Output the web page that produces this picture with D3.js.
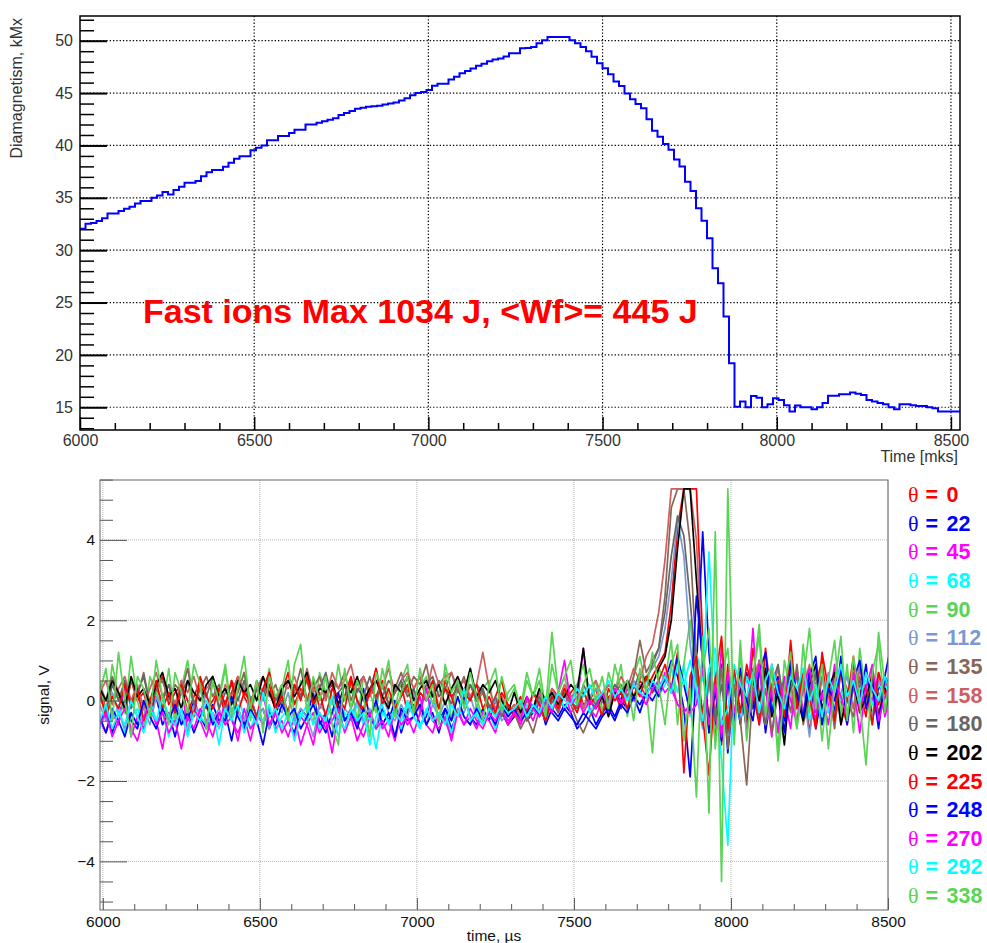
<!DOCTYPE html>
<html>
<head>
<meta charset="utf-8">
<script src="https://cdn.jsdelivr.net/npm/d3@7"></script>
<style>
  html, body { margin: 0; padding: 0; background: #fff; }
  svg { display: block; }
</style>
</head>
<body>
<svg id="chart" width="987" height="943"></svg>
<script>
// ---- top panel: diamagnetism histogram (bins from 6000 to 8526 mks) ----
const diamStart = 6000, diamEnd = 8526;
const diam = [
  32.05, 32.52, 32.6, 32.78, 33.05, 33.51, 33.51, 33.73, 33.95, 34.15,
  34.46, 34.69, 34.69, 35.0, 35.23, 35.55, 35.32, 35.74, 36.05, 36.44,
  36.44, 36.6, 37.07, 37.45, 37.65, 37.65, 37.96, 38.35, 38.73, 38.98,
  38.98, 39.55, 39.78, 40.0, 40.5, 40.5, 40.9, 40.9, 41.2, 41.5,
  41.5, 42.0, 42.0, 42.16, 42.3, 42.45, 42.6, 42.9, 43.1, 43.3,
  43.5, 43.6, 43.7, 43.75, 43.8, 43.9, 44.0, 44.1, 44.3, 44.5,
  44.8, 45.0, 45.1, 45.3, 45.7, 45.9, 45.9, 46.3, 46.55, 46.9,
  47.1, 47.35, 47.6, 47.8, 48.05, 48.2, 48.3, 48.5, 48.8, 48.8,
  49.27, 49.3, 49.4, 49.75, 50.05, 50.35, 50.35, 50.35, 50.35, 50.05,
  49.75, 49.4, 49.0, 48.47, 47.84, 47.36, 46.8, 46.1, 45.67, 44.97,
  44.4, 43.95, 43.54, 42.5, 41.4, 40.84, 40.14, 39.6, 38.67, 38.0,
  36.54, 35.65, 34.0, 32.8, 31.13, 28.27, 26.84, 23.66, 19.2, 15.06,
  15.54, 15.0, 16.08, 15.92, 15.0, 15.3, 15.86, 15.7, 15.2, 14.6,
  15.16, 15.0, 15.0, 14.8, 15.0, 15.4, 16.1, 16.1, 16.24, 16.24,
  16.4, 16.3, 16.18, 15.7, 15.54, 15.4, 15.3, 15.0, 14.8, 15.3,
  15.3, 15.2, 15.13, 15.13, 15.0, 14.9, 14.6, 14.6, 14.6, 14.6
];
const topXMajor = [6000, 6500, 7000, 7500, 8000, 8500];
const topYMajor = [15, 20, 25, 30, 35, 40, 45, 50];
const topNote = 'Fast ions Max 1034 J, <Wf>= 445 J';

// ---- bottom panel: probe signals, sampled every 20 us from 5990 us ----
const tStart = 5990, tStep = 20;
const thetas = [0, 22, 45, 68, 90, 112, 135, 158, 180, 202, 225, 248, 270, 292, 338];
const colors = ['#ff0000', '#0000ff', '#ff00ff', '#00ffff', '#59d454', '#7d99d1', '#876657',
  '#cf5e61', '#666666', '#000000', '#ff0000', '#0000ff', '#ff00ff', '#00ffff', '#59d454'];

const sig0 = [
  0.3,-0.2,0.4,0.1,-0.3,0.5,0.0,0.2,-0.4,0.3, 0.6,-0.1,0.2,0.4,-0.3,0.1,0.5,-0.2,0.0,0.3,
  -0.4,0.2,0.6,0.1,-0.2,0.3,0.0,0.4,-0.3,0.2, 0.7,-0.1,0.3,0.0,0.5,-0.2,0.2,0.4,-0.3,0.1,
  0.6,0.0,-0.2,0.3,0.1,0.5,-0.1,0.2,0.4,-0.3, 0.3,0.6,0.0,0.2,-0.2,0.5,0.1,0.3,-0.1,0.4,
  0.0,0.2,-0.3,0.1,0.5,-0.2,
  -0.2,0.1,-0.4,0.2,0.0,-0.3,0.3,0.1,-0.2,0.2,0.4,-0.1,0.0,0.3,-0.3,0.1,0.2,-0.2,0.4,0.1,0.5,0.3,0.6,0.9,
  1.2,2.4,4.3,5.27,5.27,5.27,1.5,-0.8,0.6,-1.1,0.9,-0.4,
  0.8,-0.5,1.3,0.2,-0.7,0.9,0.1,-0.4,1.1,-0.2,0.6,-0.8,0.4,1.0,-0.3,0.7,0.0,-0.6,0.9,0.3,-0.4,0.8,-0.1,0.5,0.2
];
const sig22 = [
  -0.6,-0.2,-0.8,-0.3,0.0,-0.5,-0.7,-0.1,-0.4,0.1, -0.6,-0.3,-0.9,-0.2,-0.5,0.0,-0.4,-0.7,-0.1,-0.5,
  -0.3,-1.0,-0.2,-0.6,0.1,-0.4,-0.2,-0.7,-0.3,0.0, -0.5,-0.8,-0.2,-0.4,0.2,-0.6,-0.3,-0.9,-0.1,-0.5,
  -0.2,-0.6,0.3,-0.4,-0.7,-0.2,-0.5,0.0,-0.8,-0.3, -0.1,-0.6,-0.4,0.2,-0.5,-0.2,-0.7,-0.3,0.1,-0.4,
  -0.6,-0.2,-0.5,0.0,-0.3,-0.6,
  -0.4,-0.1,-0.5,-0.3,0.0,-0.6,-0.2,-0.4,-0.1,-0.3,-0.7,-0.5,-0.2,-0.6,-0.3,-0.1,-0.4,0.0,-0.2,0.1,-0.3,0.2,0.0,0.3,
  0.5,1.0,0.6,-0.2,-1.9,0.8,4.2,1.2,-0.6,0.9,-1.3,0.4,
  -0.6,0.7,-0.2,1.0,-0.8,0.3,0.6,-0.5,1.2,0.0,-0.4,0.8,-0.7,0.2,0.5,-0.3,1.1,-0.6,0.4,0.0,0.9,-0.5,0.3,0.6,1.4
];
const sig45 = [
  -0.5,-0.8,-0.3,-0.6,0.4,-0.9,-0.4,-0.7,-0.1,-0.5, -1.2,-0.3,-0.6,0.5,-0.8,-0.2,-0.5,-0.9,-0.3,-0.6,
  0.0,-0.5,-0.8,-0.4,-1.0,-0.3,-0.6,-0.2,-0.7,-0.5, -0.9,-0.4,-1.1,-0.6,-0.3,-0.8,-0.5,-1.3,-0.4,-0.7,
  -0.2,-0.6,-0.9,-0.4,-0.1,-0.7,-0.5,-1.0,-0.3,-0.6, -0.4,0.1,-0.6,-0.8,-0.3,-0.5,-0.9,-0.2,-0.6,-0.4,
  -0.7,-0.3,-0.5,-0.8,-0.2,-0.5,
  -0.3,-0.6,-0.2,-0.5,0.0,-0.4,0.1,-0.3,0.2,-0.3,-0.1,1.3,-0.2,-0.4,0.0,-0.3,0.2,-0.1,0.3,0.0,0.4,0.1,0.5,0.2,
  0.7,0.3,-0.1,-0.3,-0.1,0.9,-0.5,0.6,-1.0,1.4,-0.7,0.2,
  0.4,-0.3,1.8,-0.6,0.3,-0.9,0.5,0.1,-0.7,0.8,-0.3,0.2,-0.5,0.6,-0.2,0.9,-0.6,0.1,0.4,-0.8,0.3,0.0,0.7,-0.4,0.2
];
const sig68 = [
  -0.7,-0.3,-0.5,-0.1,-0.8,-0.4,-0.2,-0.6,0.0,-0.5, -0.3,-0.9,-0.2,-0.5,-0.7,-0.1,-0.4,-0.6,-0.3,-1.1,
  -0.2,-0.5,0.1,-0.4,-0.7,-0.3,-0.5,-0.1,-0.8,-0.4, -0.2,-0.6,-0.3,-0.5,0.0,-0.7,-0.4,-0.2,-0.9,-0.3,
  -0.5,-0.1,-0.6,-0.4,-1.2,-0.3,-0.5,-0.2,-0.7,-0.1, -0.4,-0.6,-0.3,0.2,-0.5,-0.3,-0.8,-0.2,-0.4,-0.6,
  -0.1,-0.5,-0.3,-0.7,-0.2,-0.4,
  -0.2,-0.5,-0.1,-0.3,0.1,-0.4,0.0,0.2,-0.2,0.1,-0.1,0.3,-0.3,0.0,0.2,-0.1,0.3,0.0,0.4,0.1,0.2,0.5,0.3,0.1,
  0.4,0.8,0.2,0.9,-0.4,1.2,0.5,3.7,0.3,-1.5,-3.6,0.6,
  -0.5,0.6,0.2,-0.4,0.9,0.0,-0.7,0.5,0.3,-0.2,0.8,-0.5,0.1,0.6,-0.3,0.4,0.0,0.7,-0.2,0.3,0.5,-0.1,0.4,0.2,0.6
];
const sig90 = [
  0.5,-0.4,0.9,0.1,-0.3,1.1,0.0,-0.6,0.6,0.2, -0.2,0.8,-0.5,0.3,1.0,-0.1,0.4,-0.7,0.6,0.1,
  0.9,-0.3,0.2,0.7,-0.5,0.4,0.0,0.8,-0.2,0.3, 1.0,-0.4,0.5,0.1,-0.6,0.7,0.2,-0.1,0.9,0.0,
  0.4,-0.5,0.6,0.2,-0.3,0.8,0.1,-0.2,0.5,0.9, -0.4,0.3,0.6,-0.1,0.2,0.7,-0.5,0.4,0.1,0.8,
  -0.2,0.3,0.5,-0.4,0.6,0.0,
  0.3,-0.3,0.5,0.1,0.8,-0.2,1.7,0.2,0.6,-0.1,0.4,0.9,0.0,0.5,-0.3,0.7,0.2,0.9,-0.4,0.6,1.1,0.3,-1.3,0.8,
  0.5,1.5,-0.6,0.9,2.0,0.4,0.7,1.8,-1.2,0.6,1.3,-0.8,
  1.2,-0.9,0.6,1.6,-0.5,0.3,-1.2,1.0,0.2,-0.7,1.4,-0.3,0.8,-1.0,0.5,1.5,-0.4,0.9,-0.8,1.3,0.1,-0.6,1.7,0.4,-0.9
];
const sig112 = [
  -0.1,-0.5,0.2,-0.3,-0.7,0.0,-0.4,-0.2,-0.6,0.1, -0.3,-0.5,0.0,-0.4,-0.8,-0.1,-0.3,0.2,-0.5,-0.2,
  -0.6,0.0,-0.3,-0.5,0.1,-0.4,-0.2,-0.7,-0.1,-0.3, 0.2,-0.5,-0.2,-0.4,-0.9,-0.1,-0.3,0.1,-0.6,-0.2,
  -0.4,0.0,-0.5,-0.2,-0.7,0.1,-0.3,-0.5,-0.1,-0.4, 0.2,-0.3,-0.6,-0.1,-0.4,0.0,-0.5,-0.2,-0.3,0.1,
  -0.4,-0.6,-0.2,0.0,-0.5,-0.3,
  -0.1,-0.4,0.0,-0.2,0.2,-0.3,0.1,-0.1,0.3,0.0,0.4,-0.2,0.1,0.3,0.0,-0.2,0.2,0.4,0.1,0.5,0.3,0.6,0.8,1.1,
  1.8,3.0,4.5,3.6,1.4,0.2,-0.7,0.4,-0.3,0.7,-0.5,0.3,
  0.6,-0.4,0.2,0.9,-0.6,0.1,0.5,-0.3,0.8,-0.1,0.3,-0.9,0.4,0.0,0.7,-0.5,0.2,0.6,-0.2,0.9,0.1,-0.4,0.5,0.3,0.0
];
const sig135 = [
  0.4,0.0,0.6,0.2,-0.2,0.5,0.1,0.7,-0.1,0.3, 0.5,0.0,0.4,0.2,0.8,-0.1,0.3,0.6,0.1,0.4,
  -0.2,0.5,0.2,0.7,0.0,0.3,0.6,0.1,0.4,-0.1, 0.5,0.2,0.8,0.0,0.3,0.6,0.1,0.5,0.3,0.7,
  0.0,0.4,0.6,0.2,0.8,0.1,0.5,0.3,0.7,0.2, 0.6,0.4,0.9,0.1,0.5,0.3,0.7,0.2,0.6,0.0,
  0.4,0.2,-0.1,-0.4,-0.2,-0.6,
  -0.3,-0.7,-0.4,-0.8,-0.2,-0.5,0.0,-0.3,0.2,-0.1,-0.5,-0.8,-0.4,-0.1,0.1,-0.2,0.2,0.4,0.1,0.6,1.5,0.7,1.0,1.3,
  2.6,4.8,5.27,5.27,3.9,1.0,-0.6,0.5,-0.3,0.8,-1.2,0.4,
  -0.5,-2.1,0.3,-0.4,0.7,-0.8,0.2,0.5,-0.3,0.9,-0.6,0.1,0.6,-0.2,0.4,-0.7,0.8,0.0,-0.4,0.6,-0.1,0.3,-0.6,0.5,0.2
];
const sig158 = [
  0.2,0.5,-0.1,0.3,0.6,0.0,0.4,-0.2,0.3,0.7, 0.1,0.4,-0.1,0.5,0.2,0.6,0.0,0.3,0.5,-0.2,
  0.4,0.1,0.6,0.3,-0.1,0.5,0.2,0.7,0.0,0.4, 0.3,0.6,0.1,0.8,0.2,0.4,0.0,0.7,0.3,0.5,
  0.9,0.2,0.6,0.1,0.5,0.3,0.8,0.2,0.5,0.7, 0.3,0.6,0.2,0.9,0.4,0.6,0.7,0.3,0.5,0.1,
  0.4,1.2,0.3,-0.2,0.1,-0.3,
  -0.1,-0.4,0.0,-0.2,0.2,-0.1,0.3,0.0,0.4,0.1,0.2,-0.2,0.3,0.5,0.1,0.4,0.2,0.6,0.3,0.8,0.5,1.1,1.4,2.2,
  3.5,5.27,5.27,5.27,5.27,4.0,0.8,-0.4,0.6,-0.8,0.3,-0.5,
  0.7,-0.3,0.4,1.0,-0.5,0.2,0.8,-0.1,0.5,-0.6,0.3,0.9,-0.2,0.6,0.1,-0.4,0.7,0.3,-0.2,0.8,0.0,0.5,-0.3,0.4,0.6
];
const sig180 = [
  0.1,-0.3,0.4,0.0,0.5,-0.2,0.2,0.6,-0.1,0.3, 0.0,0.4,-0.3,0.2,0.5,-0.1,0.3,0.1,0.6,-0.2,
  0.2,0.4,0.0,0.5,-0.2,0.3,0.1,0.6,0.0,0.2, -0.3,0.4,0.1,0.5,-0.1,0.3,0.7,0.0,0.2,0.4,
  -0.2,0.3,0.1,0.6,0.0,0.4,-0.1,0.2,0.5,0.1, 0.3,-0.2,0.4,0.6,0.1,0.3,-0.1,0.5,0.2,0.4,
  0.0,0.3,-0.2,0.1,-0.4,-0.1,
  -0.3,0.0,-0.5,-0.2,0.1,-0.3,0.2,-0.1,0.3,0.0,-0.2,0.4,0.1,-0.1,0.2,0.0,0.4,0.2,0.5,0.3,0.7,0.5,0.9,1.3,
  2.2,3.6,4.6,4.1,2.5,0.6,-0.3,0.7,-0.5,0.4,-0.8,0.2,
  0.5,-0.4,0.8,0.1,-0.6,0.4,0.9,-0.2,0.3,0.6,-0.5,0.2,0.7,-0.3,0.4,0.0,0.8,-0.4,0.3,0.5,-0.1,0.6,0.2,-0.3,0.4
];
const sig202 = [
  0.3,0.0,0.5,0.2,-0.2,0.6,0.1,0.3,-0.1,0.4, 0.7,0.1,0.3,-0.2,0.5,0.2,0.0,0.4,0.6,0.1,
  0.3,-0.1,0.5,0.2,0.4,0.0,0.6,0.2,-0.2,0.3, 0.5,0.1,0.4,0.7,0.0,0.3,0.2,0.5,-0.1,0.4,
  0.2,0.6,0.0,0.3,0.5,0.1,-0.2,0.4,0.2,0.6, 0.0,0.3,0.5,0.1,0.4,-0.1,0.3,0.6,0.2,0.8,
  0.1,0.4,0.2,0.5,0.0,-0.3,
  0.2,-0.3,0.1,-0.2,0.3,0.0,0.2,-0.1,0.1,0.4,0.2,1.3,0.0,-0.2,0.1,-0.4,0.2,0.0,0.5,0.1,0.3,0.6,0.4,0.8,
  1.1,2.0,3.8,5.27,5.27,3.0,0.9,-0.5,0.3,-0.9,0.6,-0.4,
  0.3,-0.7,0.5,0.0,0.8,-0.4,0.2,-1.1,0.6,0.1,-0.5,0.4,0.9,-0.2,0.3,0.7,-0.6,0.2,0.5,-0.3,0.1,0.6,-0.4,0.3,-0.2
];
const sig225 = [
  0.2,-0.4,0.1,-0.2,0.4,-0.1,0.3,-0.5,0.0,0.5, -0.2,0.2,-0.3,0.4,0.0,-0.4,0.6,0.1,-0.2,0.3,
  -0.1,0.5,-0.3,0.2,0.0,-0.4,0.3,0.7,-0.2,0.1, -0.3,0.4,0.0,0.6,-0.1,0.2,-0.4,0.3,0.1,-0.2,
  0.5,0.0,-0.3,0.2,0.8,-0.1,0.3,-0.2,0.1,0.4, -0.3,0.2,0.0,0.5,-0.2,0.3,0.1,-0.4,0.2,0.0,
  0.4,-0.2,0.1,-0.3,0.2,-0.1,
  -0.4,0.0,-0.3,0.2,-0.1,-0.5,0.1,-0.2,0.3,0.0,-0.3,0.2,-0.1,0.1,-0.4,0.3,0.0,0.2,-0.2,0.4,0.1,0.6,0.2,0.5,
  0.9,0.3,1.2,-1.8,0.6,1.1,-0.4,-1.85,0.5,1.6,-0.7,0.8,
  -0.3,0.9,0.2,-0.6,1.3,0.0,0.5,-0.4,1.5,-0.2,0.7,0.1,-0.7,1.2,0.3,-0.5,0.8,0.0,1.1,-0.3,0.4,-0.6,0.7,0.2,-0.4
];
const sig248 = [
  -0.4,-0.8,-0.2,-0.5,-0.9,-0.3,-0.6,0.0,-0.4,-0.7, -0.2,-0.5,-0.1,-0.6,-0.3,-0.8,-0.4,-0.1,-0.6,-0.3,
  -0.5,0.1,-0.4,-0.7,-0.2,-0.5,-1.1,-0.3,-0.6,-0.1, -0.4,-0.2,-0.7,-0.4,-0.1,-0.5,-0.8,-0.3,0.2,-0.5,
  -0.3,-0.7,-0.2,-0.4,0.0,-0.6,-0.3,-0.9,-0.2,-0.5, -0.4,-0.1,-0.6,-0.3,-0.8,-0.2,-0.5,0.1,-0.4,-0.6,
  -0.2,-0.5,-0.3,-0.6,-0.1,-0.4,
  -0.2,-0.5,-0.3,-0.1,-0.4,0.0,-0.3,-0.5,-0.2,-0.4,-0.6,-0.3,-0.5,-0.7,-0.4,-0.2,-0.5,-0.1,-0.3,0.1,-0.1,0.2,0.4,0.1,
  0.6,0.2,1.1,0.4,-0.3,2.6,1.0,-0.8,0.3,-1.0,0.5,-0.5,
  0.8,0.0,-0.5,0.7,1.2,-0.3,0.4,-0.8,0.9,0.2,-0.4,0.6,1.1,-0.6,0.3,0.0,0.8,-0.5,0.5,1.0,-0.2,0.4,-0.7,0.6,0.3
];
const sig270 = [
  -0.6,-0.3,-0.9,-0.5,-0.2,-0.7,-1.0,-0.4,-0.1,-0.6, -0.3,-0.8,-0.5,-1.2,-0.4,-0.7,-0.2,-0.5,-0.9,-0.3,
  -0.6,-0.4,-1.0,-0.2,-0.7,-0.5,0.2,-0.6,-0.3,-0.8, -0.5,-0.9,-0.4,-0.6,-1.1,-0.3,-0.7,-0.5,-0.2,-0.8,
  -0.4,-1.0,-0.6,-0.3,-0.7,-0.5,-0.9,-0.2,-0.6,-0.4, -0.8,-0.3,0.3,-0.5,-0.7,-0.4,-1.0,-0.3,-0.6,-0.2,
  -0.5,-0.7,-0.3,-0.5,-0.2,-0.6,
  -0.3,-0.5,0.1,-0.2,-0.4,0.0,-0.3,0.2,1.0,-0.1,0.1,-0.3,0.0,-0.2,0.2,-0.1,0.3,0.0,0.1,0.4,0.2,-0.1,0.3,0.5,
  0.2,0.4,-0.1,-0.2,-0.3,-0.1,0.8,-0.6,0.4,-0.9,0.7,-0.3,
  0.5,-0.7,0.2,0.9,-0.4,0.3,-0.8,0.6,0.0,-0.5,0.4,0.8,-0.3,0.2,-0.6,0.5,0.1,-0.4,0.7,-0.2,0.3,0.9,-0.5,0.1,0.4
];
const sig292 = [
  -0.5,-0.1,-0.7,-0.3,-0.6,0.0,-0.4,-0.8,-0.2,-0.5, 0.1,-0.4,-0.6,-0.2,-0.9,-0.3,-0.5,0.0,-0.4,-0.7,
  -0.2,-0.5,-0.1,-0.8,-0.3,-0.6,0.2,-0.4,-0.2,-0.7, -0.3,-1.0,-0.4,-0.1,-0.6,-0.3,-0.5,0.1,-0.4,-0.7,
  -0.2,-0.5,-0.3,-1.1,-0.4,-0.1,-0.6,-0.3,-0.5,0.0, -0.4,-0.7,-0.2,-0.5,-0.3,-0.6,-0.1,-0.4,0.3,-0.5,
  -0.3,-0.6,-0.2,-0.4,-0.1,-0.3,
  -0.2,0.0,-0.4,-0.1,-0.3,0.1,-0.2,0.2,0.0,-0.1,0.3,0.1,0.4,0.0,0.2,0.5,0.1,0.3,0.0,0.4,0.2,0.1,0.5,0.3,
  0.6,0.2,0.9,0.4,1.0,0.3,-0.5,0.8,1.3,-0.6,-0.2,0.9,
  0.4,0.1,0.7,-0.3,0.5,0.9,0.2,-0.2,0.6,0.3,0.8,0.0,0.4,-0.4,0.6,0.2,0.9,0.1,0.5,-0.1,0.7,0.3,0.0,0.6,0.2
];
const sig338 = [
  0.2,0.8,-0.5,1.2,0.0,-0.9,0.6,0.3,-0.4,1.0, 0.1,-0.6,0.7,0.2,-0.3,0.9,0.4,-0.7,0.5,0.0,
  0.8,-0.4,0.3,1.1,-0.2,0.5,-0.8,0.6,0.1,0.4, -0.5,0.9,1.4,-0.3,0.6,0.0,0.6,-0.6,-1.1,0.8,
  -0.2,0.5,0.1,-0.9,0.7,0.3,1.0,-0.4,0.2,0.6, -0.3,0.8,0.0,0.4,-0.6,0.9,0.2,0.5,-0.2,0.7,
  0.1,-0.5,0.4,0.8,-0.3,0.2,
  0.4,-0.2,0.7,0.1,0.5,-0.4,0.9,0.2,0.6,1.0,-0.1,0.4,0.8,0.0,0.6,-0.2,0.9,0.3,0.5,-0.5,0.8,0.2,1.2,0.4,
  -0.6,0.9,1.4,-1.0,0.3,-2.4,1.6,-2.8,4.2,-4.5,5.27,-1.1,
  1.5,-1.0,0.6,1.9,-0.4,0.8,-1.5,0.3,1.2,-0.7,0.5,1.8,-0.2,0.9,-1.2,0.4,1.6,-0.5,1.1,0.0,-1.6,0.7,1.4,-0.3,0.9
];
const signals = [sig0, sig22, sig45, sig68, sig90, sig112, sig135, sig158, sig180, sig202,
  sig225, sig248, sig270, sig292, sig338];
const botXMajor = [6000, 6500, 7000, 7500, 8000, 8500];
const botYMajor = [-4, -2, 0, 2, 4];

const FONT = '"Liberation Sans", Arial, Helvetica, sans-serif';
const svg = d3.select('#chart').attr('font-family', FONT);

// =================== top panel ===================
const T = { l: 80, t: 16, r: 960, b: 430 };
const xTop = d3.scaleLinear().domain([diamStart, diamEnd]).range([T.l, T.r]);
const yTop = d3.scaleLinear().domain([12.83, 52.36]).range([T.b, T.t]);

const gridTop = svg.append('g')
  .attr('stroke', '#000').attr('stroke-width', 1.2).attr('stroke-dasharray', '1.3,2');
gridTop.selectAll('line.v').data(topXMajor.filter(d => d > diamStart)).join('line')
  .attr('x1', d => xTop(d)).attr('x2', d => xTop(d)).attr('y1', T.t).attr('y2', T.b);
gridTop.selectAll('line.h').data(topYMajor).join('line')
  .attr('x1', T.l).attr('x2', T.r).attr('y1', d => yTop(d)).attr('y2', d => yTop(d));

function styleAxis(g, size, color, tickColor, tickWidth) {
  g.attr('font-family', FONT).attr('font-size', size);
  g.select('.domain').remove();
  g.selectAll('.tick line').attr('stroke', tickColor).attr('stroke-width', tickWidth);
  g.selectAll('.tick text').attr('fill', color);
}

const fmt = d3.format('d');
const xTopMinor = d3.range(6000, 8501, 100).filter(d => d % 500);
styleAxis(svg.append('g').attr('transform', `translate(0,${T.b})`)
  .call(d3.axisBottom(xTop).tickValues(xTopMinor).tickSize(-7).tickFormat(() => '')), 16, '#333', '#000', 1.5);
styleAxis(svg.append('g').attr('transform', `translate(0,${T.b})`)
  .call(d3.axisBottom(xTop).tickValues(topXMajor).tickSize(-13).tickPadding(5).tickFormat(fmt)), 16, '#333', '#000', 1.5);
const yTopMinor = d3.range(13, 53, 1).filter(d => d % 5);
styleAxis(svg.append('g').attr('transform', `translate(${T.l},0)`)
  .call(d3.axisLeft(yTop).tickValues(yTopMinor).tickSize(-14).tickFormat(() => '')), 16, '#333', '#000', 1.5);
styleAxis(svg.append('g').attr('transform', `translate(${T.l},0)`)
  .call(d3.axisLeft(yTop).tickValues(topYMajor).tickSize(-27).tickPadding(7).tickFormat(fmt)), 16, '#333', '#000', 2);

const binW = (diamEnd - diamStart) / diam.length;
const diamPts = diam.map((v, k) => [diamStart + k * binW, v]);
diamPts.push([diamEnd, diam[diam.length - 1]]);
svg.append('path').datum(diamPts)
  .attr('fill', 'none').attr('stroke', '#0000ff').attr('stroke-width', 2)
  .attr('d', d3.line().x(d => xTop(d[0])).y(d => yTop(d[1])).curve(d3.curveStepAfter));

svg.append('rect').attr('x', T.l).attr('y', T.t).attr('width', T.r - T.l).attr('height', T.b - T.t)
  .attr('fill', 'none').attr('stroke', '#000').attr('stroke-width', 1.5);

svg.append('text').attr('x', 143).attr('y', 323)
  .attr('font-size', 34).attr('font-weight', 'bold').attr('fill', '#ff0000')
  .text(topNote);

svg.append('text').attr('transform', 'translate(22,18) rotate(-90)')
  .attr('text-anchor', 'end').attr('font-size', 16).attr('fill', '#333')
  .text('Diamagnetism, kMx');
svg.append('text').attr('x', 958).attr('y', 462)
  .attr('text-anchor', 'end').attr('font-size', 16).attr('fill', '#333')
  .text('Time [mks]');

// =================== bottom panel ===================
const B = { l: 100, t: 480, r: 888, b: 910 };
const xBot = d3.scaleLinear().domain([5991, 8500]).range([B.l, B.r]);
const yBot = d3.scaleLinear().domain([-5.21, 5.49]).range([B.b, B.t]);

const gridBot = svg.append('g')
  .attr('stroke', '#b4b4b4').attr('stroke-width', 1).attr('stroke-dasharray', '1,1');
gridBot.selectAll('line.v').data(botXMajor).join('line')
  .attr('x1', d => xBot(d)).attr('x2', d => xBot(d)).attr('y1', B.t).attr('y2', B.b);
gridBot.selectAll('line.h').data(botYMajor).join('line')
  .attr('x1', B.l).attr('x2', B.r).attr('y1', d => yBot(d)).attr('y2', d => yBot(d));

svg.append('clipPath').attr('id', 'botClip').append('rect')
  .attr('x', B.l).attr('y', B.t).attr('width', B.r - B.l).attr('height', B.b - B.t);

const sigLine = d3.line().x((d, i) => xBot(tStart + i * tStep)).y(d => yBot(d));
svg.append('g').attr('clip-path', 'url(#botClip)')
  .selectAll('path').data(signals).join('path')
  .attr('fill', 'none').attr('stroke', (d, i) => colors[i]).attr('stroke-width', 1.7)
  .attr('stroke-linejoin', 'round')
  .attr('d', sigLine);

const xBotMinor = d3.range(6000, 8501, 100).filter(d => d % 500);
styleAxis(svg.append('g').attr('transform', `translate(0,${B.b})`)
  .call(d3.axisBottom(xBot).tickValues(xBotMinor).tickSize(-6).tickFormat(() => '')), 15.5, '#111', '#555', 1);
styleAxis(svg.append('g').attr('transform', `translate(0,${B.b})`)
  .call(d3.axisBottom(xBot).tickValues(botXMajor).tickSize(-12).tickPadding(6).tickFormat(fmt)), 15.5, '#111', '#555', 1);
const yBotMinor = d3.range(-5, 5.51, 0.5).filter(d => Math.abs(d % 2) > 1e-6);
styleAxis(svg.append('g').attr('transform', `translate(${B.l},0)`)
  .call(d3.axisLeft(yBot).tickValues(yBotMinor).tickSize(-13).tickFormat(() => '')), 15.5, '#111', '#555', 1);
styleAxis(svg.append('g').attr('transform', `translate(${B.l},0)`)
  .call(d3.axisLeft(yBot).tickValues(botYMajor).tickSize(-27).tickPadding(5).tickFormat(d => d < 0 ? '\u2212' + Math.abs(d) : d)), 15.5, '#111', '#555', 1);

svg.append('rect').attr('x', B.l).attr('y', B.t).attr('width', B.r - B.l).attr('height', B.b - B.t)
  .attr('fill', 'none').attr('stroke', '#666').attr('stroke-width', 1);

svg.append('text').attr('transform', `translate(49,${(B.t + B.b) / 2}) rotate(-90)`)
  .attr('text-anchor', 'middle').attr('font-size', 15.5).attr('fill', '#111')
  .text('signal, V');
svg.append('text').attr('x', (B.l + B.r) / 2).attr('y', 941)
  .attr('text-anchor', 'middle').attr('font-size', 15.5).attr('fill', '#111')
  .text('time, \u00b5s');

// legend
const leg = svg.append('g').selectAll('text').data(thetas).join('text')
  .attr('y', (d, i) => 502 + i * 28.65)
  .attr('fill', (d, i) => colors[i]);
leg.append('tspan').attr('x', 908).attr('font-family', '"Liberation Serif", "DejaVu Serif", serif')
  .attr('font-size', 22).text('\u03b8');
leg.append('tspan').attr('x', 925.5).attr('font-size', 21.5).attr('font-weight', 'bold').text('=');
leg.append('tspan').attr('x', 946.5).attr('font-size', 21.5).attr('font-weight', 'bold').text(d => d);
</script>
</body>
</html>
